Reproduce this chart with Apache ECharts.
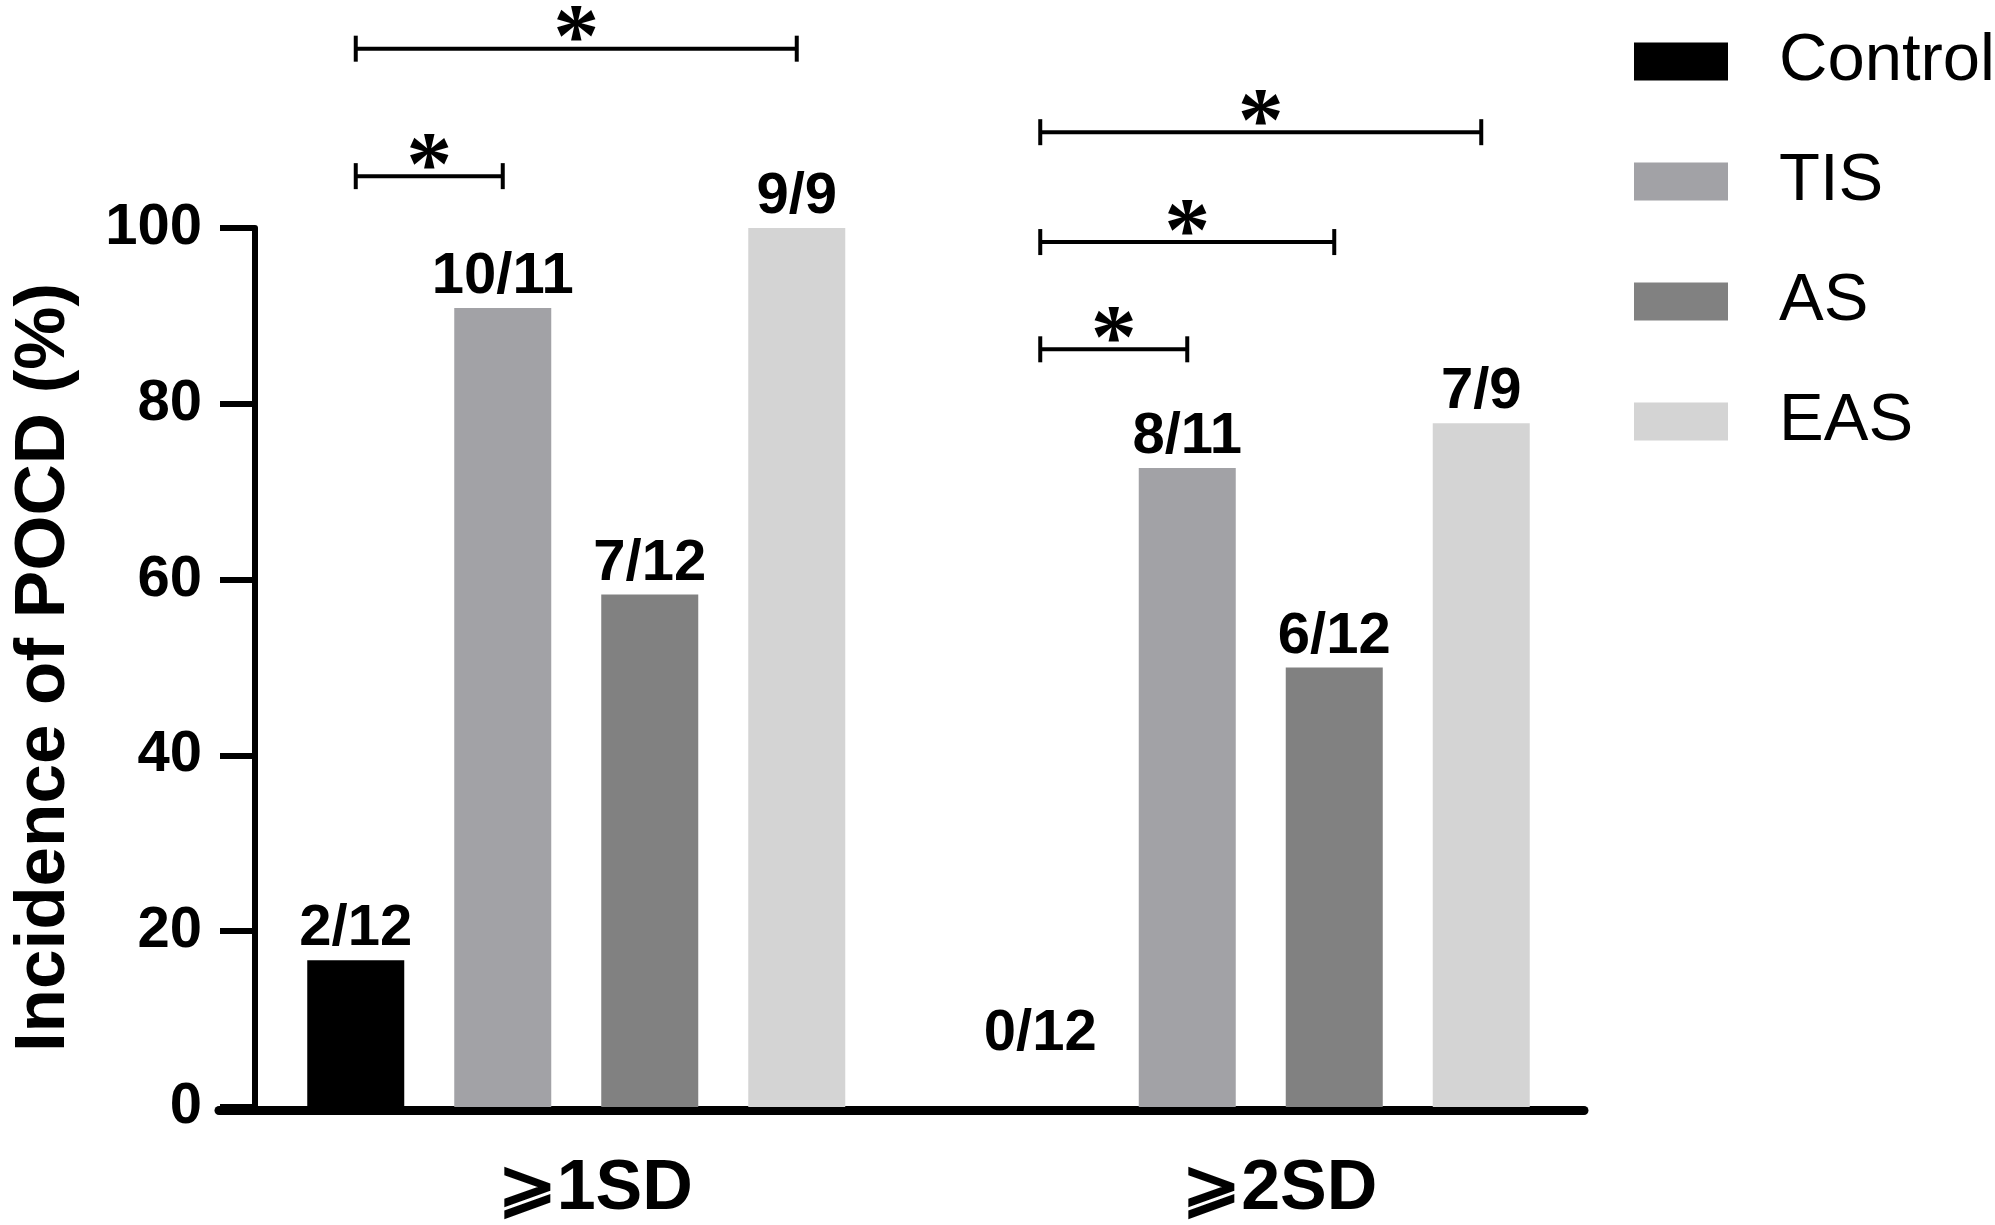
<!DOCTYPE html>
<html>
<head>
<meta charset="utf-8">
<script src="https://cdn.jsdelivr.net/npm/echarts@6/dist/echarts.min.js"></script>
<style>
html,body{margin:0;padding:0;background:#fff;}
#chart{width:1995px;height:1225px;}
</style>
</head>
<body>
<div id="chart"></div>
<script>
// categories and groups
var categories = ['⩾1SD', '⩾2SD'];
var groupNames = ['Control', 'TIS', 'AS', 'EAS'];
var groupColors = ['#000000', '#a2a2a6', '#818181', '#d4d4d4'];

// incidence (%) per group, one value per category
var controlVals = [16.7, 0];
var tisVals = [90.9, 72.7];
var asVals = [58.3, 50.0];
var easVals = [100, 77.8];

// count labels above bars
var controlLabels = ['2/12', '0/12'];
var tisLabels = ['10/11', '8/11'];
var asLabels = ['7/12', '6/12'];
var easLabels = ['9/9', '7/9'];

// significance brackets: category, from bar, to bar, height (axis units)
var bracketCat = [0, 0, 1, 1, 1];
var bracketFrom = [0, 0, 0, 0, 0];
var bracketTo = [1, 3, 1, 2, 3];
var bracketLevel = [105.9, 120.4, 86.2, 98.4, 110.9];

var yTicks = [0, 20, 40, 60, 80, 100];

var BAR_W = 97, BAR_SPACE = 50;
var FONT = "'Liberation Sans', Arial, sans-serif";

var allVals = [controlVals, tisVals, asVals, easVals];
var allLabels = [controlLabels, tisLabels, asLabels, easLabels];

var series = [];
for (var s = 0; s < groupNames.length; s++) {
	var data = [];
	for (var i = 0; i < categories.length; i++) {
		var item = {value: allVals[s][i], lbl: allLabels[s][i]};
		if (allVals[s][i] === 0) {
			item.label = {distance: 44};
		}
		data.push(item);
	}
	series.push({
		name: groupNames[s],
		type: 'bar',
		xAxisIndex: 0,
		yAxisIndex: 0,
		barWidth: BAR_W,
		barGap: (BAR_SPACE / BAR_W * 100) + '%',
		itemStyle: {color: groupColors[s]},
		label: {
			show: true,
			position: 'top',
			distance: 2,
			fontFamily: FONT,
			fontWeight: 'bold',
			fontSize: 58,
			color: '#000',
			formatter: function (p) { return p.data.lbl; }
		},
		data: data
	});
}

var bracketData = [];
for (var b = 0; b < bracketCat.length; b++) {
	bracketData.push([bracketCat[b], bracketLevel[b], bracketFrom[b], bracketTo[b]]);
}

series.push({
	type: 'custom',
	xAxisIndex: 0,
	yAxisIndex: 0,
	clip: false,
	silent: true,
	z: 10,
	data: bracketData,
	renderItem: function (params, api) {
		var c = api.coord([api.value(0), api.value(1)]);
		var step = BAR_W + BAR_SPACE;
		var x1 = c[0] + (api.value(2) - 1.5) * step;
		var x2 = c[0] + (api.value(3) - 1.5) * step;
		var y = c[1];
		var ls = {stroke: '#000', lineWidth: 4};
		return {
			type: 'group',
			children: [
				{type: 'line', shape: {x1: x1, y1: y, x2: x2, y2: y}, style: ls},
				{type: 'line', shape: {x1: x1, y1: y - 13, x2: x1, y2: y + 13}, style: ls},
				{type: 'line', shape: {x1: x2, y1: y - 13, x2: x2, y2: y + 13}, style: ls},
				{type: 'text', style: {
					x: (x1 + x2) / 2, y: y - 6, text: '*',
					fontFamily: "'Liberation Serif', 'Times New Roman', serif",
					fontWeight: 'bold',
					fontSize: 92, fill: '#000', align: 'center', verticalAlign: 'middle'
				}}
			]
		};
	}
});

var chart = echarts.init(document.getElementById('chart'));
chart.setOption({
	backgroundColor: '#fff',
	animation: false,
	legend: {
		orient: 'vertical',
		left: 1629,
		top: 23,
		itemWidth: 94,
		itemHeight: 38,
		itemGap: 53,
		icon: 'rect',
		data: groupNames,
		textStyle: {fontFamily: FONT, fontSize: 67, lineHeight: 66, color: '#000', padding: [0, 0, 0, 46]}
	},
	grid: [
		{left: 234, right: 392, top: 228, bottom: 115},
		{left: 219, right: 411, top: 228, bottom: 115}
	],
	xAxis: [
		{
			type: 'category',
			gridIndex: 0,
			data: categories,
			axisLine: {show: false},
			axisTick: {show: false},
			axisLabel: {
				fontFamily: FONT,
				fontWeight: 'bold',
				fontSize: 70,
				color: '#000',
				margin: 48,
				padding: [0, 0, 0, 38]
			}
		},
		{
			type: 'value',
			gridIndex: 1,
			min: 0,
			max: 1,
			axisLine: {show: true, lineStyle: {color: '#000', width: 9}},
			axisTick: {show: false},
			axisLabel: {show: false},
			splitLine: {show: false}
		}
	],
	yAxis: [
		{
			type: 'value',
			gridIndex: 0,
			min: yTicks[0],
			max: yTicks[yTicks.length - 1],
			interval: 20,
			offset: -21,
			name: 'Incidence of POCD (%)',
			nameLocation: 'middle',
			nameRotate: 90,
			nameGap: 175,
			nameTextStyle: {fontFamily: FONT, fontWeight: 'bold', fontSize: 71, color: '#000'},
			axisLine: {show: true, lineStyle: {color: '#000', width: 6}},
			axisTick: {show: true, length: 35, lineStyle: {color: '#000', width: 6}},
			axisLabel: {fontFamily: FONT, fontWeight: 'bold', fontSize: 58, color: '#000', margin: 53},
			splitLine: {show: false}
		},
		{
			type: 'value',
			gridIndex: 1,
			min: 0,
			max: 100,
			show: false
		}
	],
	series: series
});
</script>
</body>
</html>
